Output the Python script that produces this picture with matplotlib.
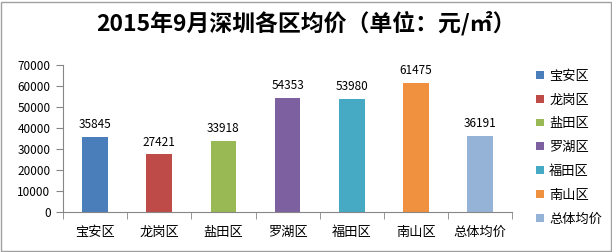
import matplotlib
matplotlib.use("Agg")
import matplotlib.pyplot as plt
from matplotlib.patches import Patch, Rectangle

plt.rcParams['font.family'] = ['Noto Sans CJK SC', 'DejaVu Sans']

# data
districts = ["宝安区", "龙岗区", "盐田区", "罗湖区", "福田区", "南山区", "总体均价"]
prices = [35845, 27421, 33918, 54353, 53980, 61475, 36191]
colors = ["#4A7EBB", "#BE4B48", "#98B954", "#7D60A0", "#46AAC5", "#F0913F", "#95B3D7"]
yticks = [0, 10000, 20000, 30000, 40000, 50000, 60000, 70000]

fig = plt.figure(figsize=(6.12, 2.52), dpi=100)
ax = fig.add_axes([0.103, 0.159, 0.734, 0.583])

x = range(len(districts))
bars = ax.bar(x, prices, width=0.4, color=colors)
for xi, v in zip(x, prices):
    ax.annotate(str(v), (xi, v), xytext=(0, 4), textcoords="offset points",
                ha="center", va="bottom", fontsize=8.5)

ax.set_xlim(-0.5, len(districts) - 0.5)
ax.set_ylim(0, 70000)
ax.set_yticks(yticks)
ax.set_yticklabels([str(t) for t in yticks], fontsize=8.5)
ax.set_xticks(list(x))
ax.set_xticklabels(districts, fontsize=9.5)
ax.tick_params(axis="x", length=0, pad=10)
ax.set_xticks([i + 0.5 for i in range(-1, len(districts))], minor=True)
ax.tick_params(axis="x", which="minor", length=5, color="#868686")
ax.tick_params(axis="y", length=5, color="#868686", pad=4)

for s in ["top", "right"]:
    ax.spines[s].set_visible(False)
for s in ["left", "bottom"]:
    ax.spines[s].set_color("#868686")

fig.suptitle("2015年9月深圳各区均价（单位：元/㎡）", fontsize=16.5,
             fontweight="bold", x=0.5, y=0.955)

handles = [Patch(facecolor=c, edgecolor="none") for c in colors]
fig.legend(handles, districts, loc="upper left", bbox_to_anchor=(0.868, 0.745),
           frameon=False, fontsize=9.5, handlelength=0.55, handleheight=0.55,
           handletextpad=0.4, labelspacing=0.82, borderaxespad=0)

fig.patches.append(Rectangle((0.002, 0.004), 0.996, 0.99, transform=fig.transFigure,
                             fill=False, edgecolor="#A0A0A0", linewidth=1))

fig.savefig("out.png", dpi=100)
